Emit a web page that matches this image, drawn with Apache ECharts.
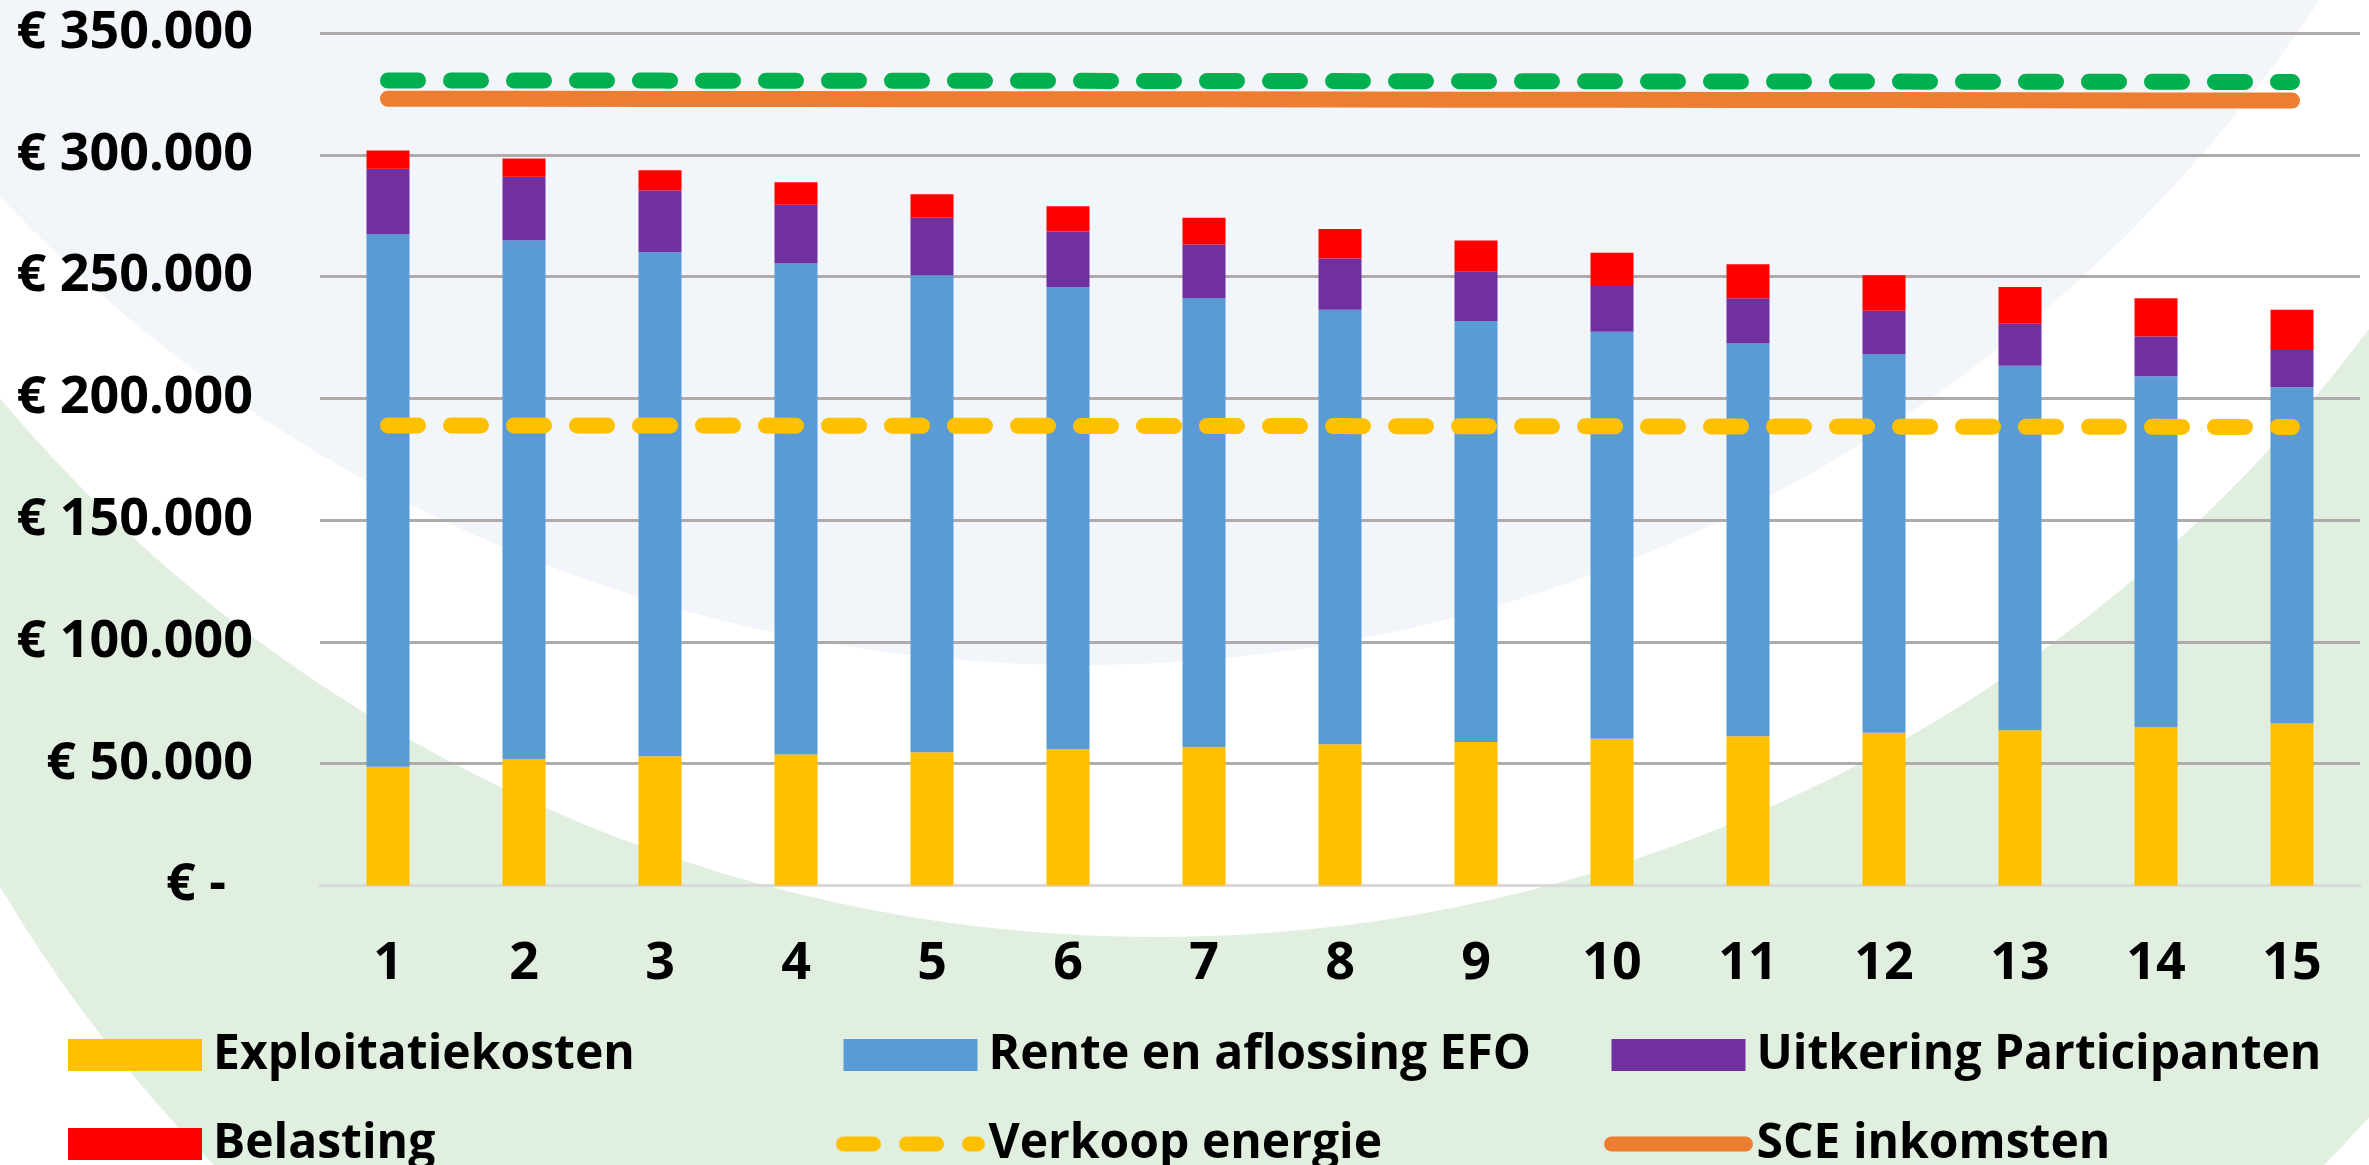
<!DOCTYPE html>
<html>
<head>
<meta charset="utf-8">
<script src="https://cdn.jsdelivr.net/npm/echarts@6/dist/echarts.min.js"></script>
<style>
html,body{margin:0;padding:0;background:#fff;}
#chart{width:2369px;height:1165px;}
</style>
</head>
<body>
<div id="chart"></div>
<script>
const categories = ['1','2','3','4','5','6','7','8','9','10','11','12','13','14','15'];
const exploitatie = [48800, 51900, 53100, 53800, 54700, 55900, 56800, 58000, 58900, 60200, 61300, 62700, 63700, 65100, 66500];
const rente = [218700, 213000, 206900, 201600, 195800, 189800, 184400, 178400, 172900, 167100, 161200, 155500, 149700, 144000, 138100];
const uitkering = [26800, 26100, 25300, 24100, 23700, 22800, 22000, 21000, 20200, 19200, 18600, 17800, 17200, 16300, 15300];
const belasting = [7500, 7500, 8300, 9200, 9600, 10400, 11000, 12100, 12800, 13300, 14000, 14500, 15100, 15700, 16500];
const verkoop = [188900, 188900, 188850, 188800, 188750, 188700, 188650, 188600, 188550, 188500, 188450, 188400, 188350, 188300, 188250];
const sce = [323000, 323000, 322950, 322900, 322850, 322800, 322750, 322700, 322600, 322550, 322500, 322450, 322400, 322300, 322250];
const totaal = [330500, 330500, 330450, 330400, 330400, 330350, 330300, 330250, 330200, 330150, 330100, 330050, 330000, 329950, 329900];
const yTicks = [0, 50000, 100000, 150000, 200000, 250000, 300000, 350000];

const FONT = '"Open Sans", "Noto Sans", sans-serif';
function fmt(v) {
  if (v === 0) return '€ -  ';
  return '€ ' + String(v).replace(/\B(?=(\d{3})+(?!\d))/g, '.');
}

const chart = echarts.init(document.getElementById('chart'), null, {renderer: 'canvas'});

const legendText = {fontFamily: FONT, fontWeight: 'bold', fontSize: 48, color: '#000', lineHeight: 40, padding: [0, 0, 0, 6]};
function legendCol(left, items) {
  return {
    orient: 'vertical', left: left, top: 1031, height: 400, width: 700, padding: 0,
    itemWidth: 134, itemHeight: 32, itemGap: 41,
    data: items, selectedMode: false, textStyle: legendText,
    lineStyle: {width: 15}
  };
}

const option = {
  backgroundColor: '#ffffff',
  animation: false,
  graphic: [
    {type: 'circle', z: -30, silent: true, shape: {cx: 1269, cy: 133, r: 1476}, style: {fill: '#E0EFDF'}},
    {type: 'circle', z: -20, silent: true, shape: {cx: 1157, cy: -575, r: 1512}, style: {fill: '#FFFFFF'}},
    {type: 'circle', z: -10, silent: true, shape: {cx: 1082, cy: -819, r: 1484}, style: {fill: '#F2F5FA'}}
  ],
  grid: {left: 320, right: 9, top: 33, bottom: 279.5, containLabel: false},
  legend: [
    legendCol(68, [{name: 'Exploitatiekosten', icon: 'rect'}, {name: 'Belasting', icon: 'rect'}]),
    legendCol(836, [{name: 'Rente en aflossing EFO', icon: 'rect'}, {name: 'Verkoop energie'}]),
    legendCol(1604, [{name: 'Uitkering Participanten', icon: 'rect'}, {name: 'SCE inkomsten'}])
  ],
  xAxis: {
    type: 'category', data: categories,
    axisTick: {show: false},
    axisLine: {show: true, lineStyle: {color: '#D9D9D9', width: 3}},
    axisLabel: {fontFamily: FONT, fontWeight: 'bold', fontSize: 52, color: '#000', margin: 53, lineHeight: 52}
  },
  yAxis: {
    type: 'value', min: 0, max: 350000, interval: 50000,
    axisLine: {show: false}, axisTick: {show: false},
    splitLine: {show: true, lineStyle: {color: '#AFABAB', width: 3}},
    axisLabel: {fontFamily: FONT, fontWeight: 'bold', fontSize: 52, color: '#000', margin: 67, formatter: fmt}
  },
  series: [
    {name: 'Exploitatiekosten', type: 'bar', stack: 'k', barWidth: 43, data: exploitatie, itemStyle: {color: '#FFC000'}},
    {name: 'Rente en aflossing EFO', type: 'bar', stack: 'k', barWidth: 43, data: rente, itemStyle: {color: '#5B9BD5'}},
    {name: 'Uitkering Participanten', type: 'bar', stack: 'k', barWidth: 43, data: uitkering, itemStyle: {color: '#7030A0'}},
    {name: 'Belasting', type: 'bar', stack: 'k', barWidth: 43, data: belasting, itemStyle: {color: '#FF0000'}},
    {name: 'Verkoop energie', type: 'line', data: verkoop, symbol: 'none', z: 5,
      itemStyle: {color: 'rgba(0,0,0,0)', borderColor: 'rgba(0,0,0,0)', borderWidth: 0},
      lineStyle: {color: '#FFC000', width: 16, type: [30, 33], cap: 'round'}},
    {name: 'SCE inkomsten', type: 'line', data: sce, symbol: 'none', z: 5,
      itemStyle: {color: 'rgba(0,0,0,0)', borderColor: 'rgba(0,0,0,0)', borderWidth: 0},
      lineStyle: {color: '#ED7D31', width: 16, type: 'solid', cap: 'round'}},
    {name: 'Totaal', type: 'line', data: totaal, symbol: 'none', z: 5,
      itemStyle: {color: 'rgba(0,0,0,0)', borderColor: 'rgba(0,0,0,0)', borderWidth: 0},
      lineStyle: {color: '#00B050', width: 16, type: [30, 33], cap: 'round'}}
  ]
};
chart.setOption(option);
</script>
</body>
</html>
